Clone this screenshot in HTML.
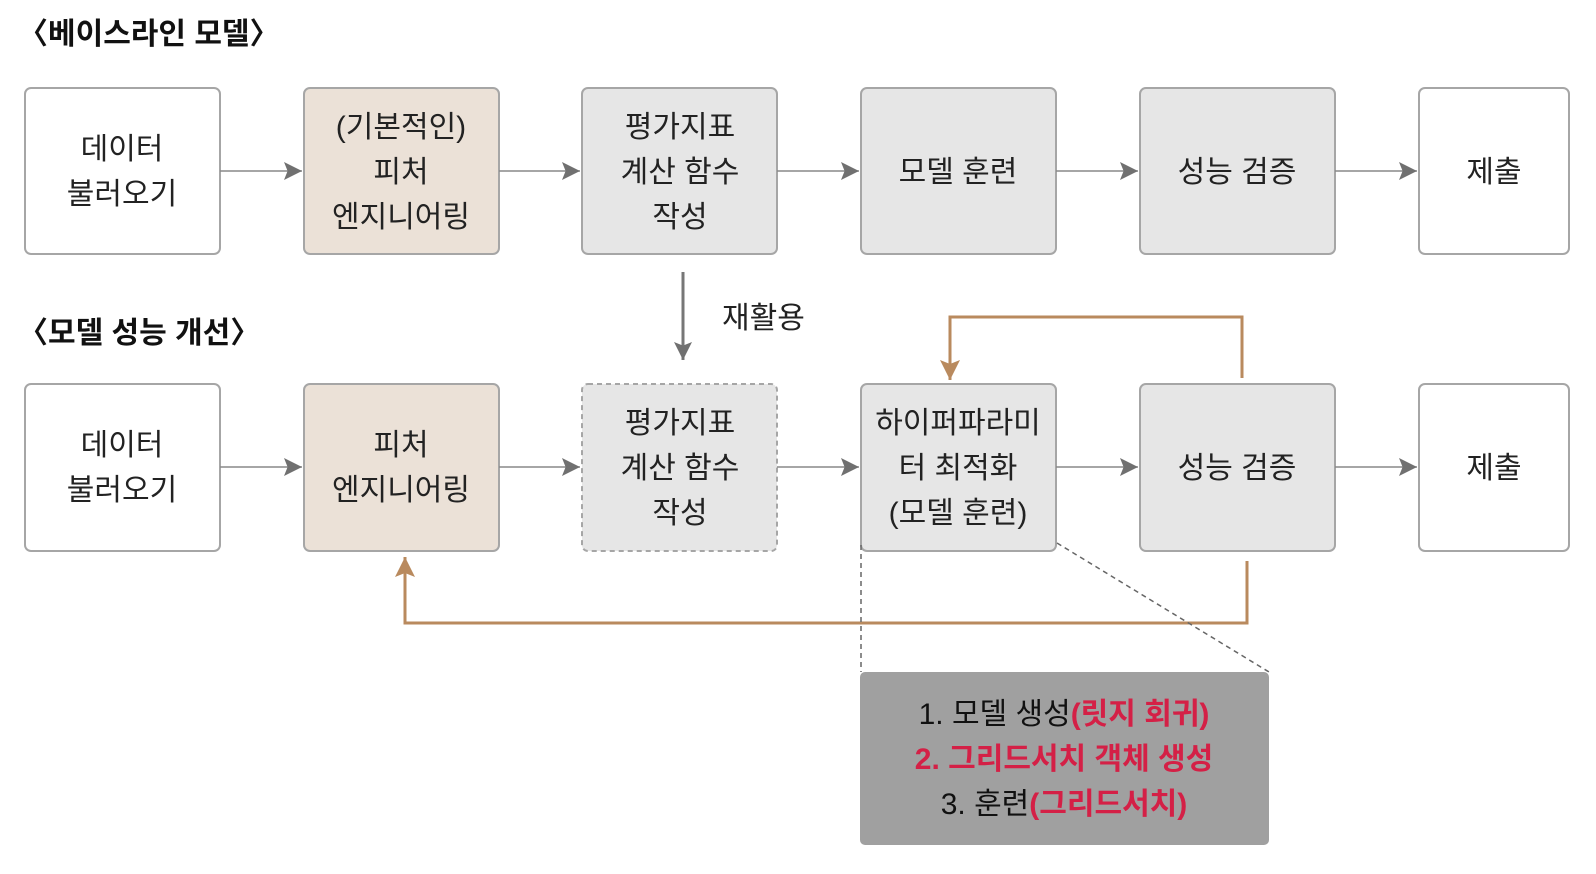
<!DOCTYPE html>
<html><head><meta charset="utf-8"><style>
body{margin:0;background:#fff}
svg{display:block}
text{font-family:"Liberation Sans","Noto Sans CJK KR",sans-serif;fill:#222}
.b{font-size:30px;text-anchor:middle}
.t{font-size:30px;font-weight:bold;fill:#111}
.r{fill:#d42046;font-weight:bold}
</style></head><body>
<svg width="1596" height="874" viewBox="0 0 1596 874" xmlns="http://www.w3.org/2000/svg">
<defs>
<marker id="ga" viewBox="0 0 10 10" markerWidth="24" markerHeight="18" refX="10" refY="5" orient="auto" markerUnits="userSpaceOnUse"><path d="M0,0 L10,5 L0,10 L2,5 Z" fill="#707070"/></marker>
<marker id="oa" viewBox="0 0 10 10" markerWidth="26" markerHeight="20" refX="10" refY="5" orient="auto" markerUnits="userSpaceOnUse"><path d="M0,0 L10,5 L0,10 L2,5 Z" fill="#b98a5e"/></marker>
</defs>
<text class="t" x="18" y="44">〈베이스라인 모델〉</text>
<text class="t" x="18" y="343">〈모델 성능 개선〉</text>

<g stroke="#a6a6a6" stroke-width="2">
<rect x="25" y="88" width="195" height="166" rx="6" fill="#fff"/>
<rect x="304" y="88" width="195" height="166" rx="6" fill="#ebe1d7"/>
<rect x="582" y="88" width="195" height="166" rx="6" fill="#e6e6e6"/>
<rect x="861" y="88" width="195" height="166" rx="6" fill="#e6e6e6"/>
<rect x="1140" y="88" width="195" height="166" rx="6" fill="#e6e6e6"/>
<rect x="1419" y="88" width="150" height="166" rx="6" fill="#fff"/>
<rect x="25" y="384" width="195" height="167" rx="6" fill="#fff"/>
<rect x="304" y="384" width="195" height="167" rx="6" fill="#ebe1d7"/>
<rect x="582" y="384" width="195" height="167" rx="6" fill="#e6e6e6" stroke-dasharray="5,4"/>
<rect x="861" y="384" width="195" height="167" rx="6" fill="#e6e6e6"/>
<rect x="1140" y="384" width="195" height="167" rx="6" fill="#e6e6e6"/>
<rect x="1419" y="384" width="150" height="167" rx="6" fill="#fff"/>
</g>

<g stroke="#888" stroke-width="1.5" marker-end="url(#ga)">
<line x1="220" y1="171" x2="302" y2="171"/>
<line x1="499" y1="171" x2="580" y2="171"/>
<line x1="777" y1="171" x2="859" y2="171"/>
<line x1="1056" y1="171" x2="1138" y2="171"/>
<line x1="1335" y1="171" x2="1417" y2="171"/>
<line x1="220" y1="467" x2="302" y2="467"/>
<line x1="499" y1="467" x2="580" y2="467"/>
<line x1="777" y1="467" x2="859" y2="467"/>
<line x1="1056" y1="467" x2="1138" y2="467"/>
<line x1="1335" y1="467" x2="1417" y2="467"/>
</g>
<line x1="683" y1="272" x2="683" y2="360" stroke="#777" stroke-width="3" marker-end="url(#ga)"/>
<text x="722" y="328" style="font-size:30px">재활용</text>

<polyline points="1242,378 1242,317 950,317 950,380" fill="none" stroke="#b98a5e" stroke-width="3" marker-end="url(#oa)"/>
<polyline points="1247,561 1247,623 405,623 405,557" fill="none" stroke="#b98a5e" stroke-width="3" marker-end="url(#oa)"/>

<line x1="861" y1="545" x2="861" y2="672" stroke="#666" stroke-width="1.5" stroke-dasharray="5,4"/>
<line x1="1057" y1="543" x2="1269" y2="672" stroke="#666" stroke-width="1.5" stroke-dasharray="5,4"/>
<rect x="860" y="672" width="409" height="173" rx="5" fill="#a0a0a0"/>

<text class="b" x="122" y="159">데이터</text><text class="b" x="122" y="204">불러오기</text>
<text class="b" x="401" y="137">(기본적인)</text><text class="b" x="401" y="182">피처</text><text class="b" x="401" y="227">엔지니어링</text>
<text class="b" x="680" y="137">평가지표</text><text class="b" x="680" y="182">계산 함수</text><text class="b" x="680" y="227">작성</text>
<text class="b" x="958" y="182">모델 훈련</text>
<text class="b" x="1237" y="182">성능 검증</text>
<text class="b" x="1494" y="182">제출</text>

<text class="b" x="122" y="455">데이터</text><text class="b" x="122" y="500">불러오기</text>
<text class="b" x="401" y="455">피처</text><text class="b" x="401" y="500">엔지니어링</text>
<text class="b" x="680" y="433">평가지표</text><text class="b" x="680" y="478">계산 함수</text><text class="b" x="680" y="523">작성</text>
<text class="b" x="958" y="433">하이퍼파라미</text><text class="b" x="958" y="478">터 최적화</text><text class="b" x="958" y="523">(모델 훈련)</text>
<text class="b" x="1237" y="478">성능 검증</text>
<text class="b" x="1494" y="478">제출</text>

<text class="b" x="1064" y="724" style="fill:#111">1. 모델 생성<tspan class="r">(릿지 회귀)</tspan></text>
<text class="b r" x="1064" y="769">2. 그리드서치 객체 생성</text>
<text class="b" x="1064" y="814" style="fill:#111">3. 훈련<tspan class="r">(그리드서치)</tspan></text>
</svg>
</body></html>
